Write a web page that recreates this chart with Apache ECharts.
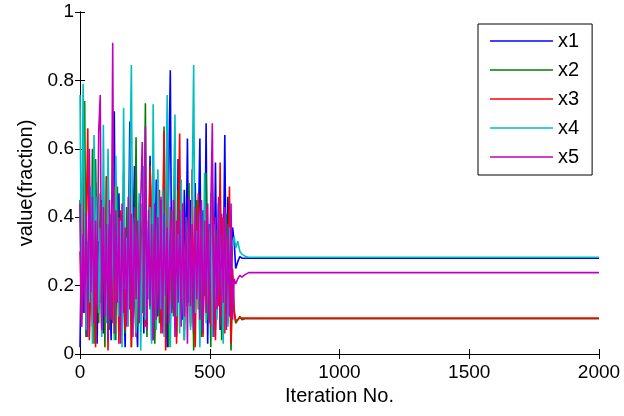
<!DOCTYPE html>
<html>
<head>
<meta charset="utf-8">
<script src="https://cdn.jsdelivr.net/npm/echarts@6/dist/echarts.min.js"></script>
<style>html,body{margin:0;padding:0;background:#fff;}#c{width:624px;height:416px;}</style>
</head>
<body>
<div id="c"></div>
<script>
// Iteration indices (noisy phase sampled every 6 iterations, then convergence)
const iterations = [0,6,12,18,24,30,36,42,48,54,60,66,72,78,84,90,96,102,108,114,120,126,132,138,144,150,156,162,168,174,180,186,192,198,204,210,216,222,228,234,240,246,252,258,264,270,276,282,288,294,300,306,312,318,324,330,336,342,348,354,360,366,372,378,384,390,396,402,408,414,420,426,432,438,444,450,456,462,468,474,480,486,492,498,504,510,516,522,528,534,540,546,552,558,564,570,576,582,588,
  594,600,608,616,624,636,650,2000];
const seriesNames = ['x1','x2','x3','x4','x5'];
const x1 = [0.02,0.35,0.12,0.48,0.05,0.30,0.18,0.42,0.08,0.27,
  0.50,0.03,0.33,0.15,0.45,0.06,0.39,0.10,0.38,0.22,
  0.04,0.52,0.71,0.14,0.29,0.47,0.07,0.41,0.19,0.02,
  0.36,0.25,0.68,0.09,0.31,0.55,0.12,0.02,0.44,0.20,
  0.37,0.06,0.49,0.16,0.28,0.58,0.04,0.40,0.23,0.51,
  0.11,0.34,0.45,0.08,0.46,0.18,0.02,0.53,0.83,0.13,
  0.26,0.43,0.05,0.57,0.17,0.39,0.10,0.48,0.24,0.63,
  0.15,0.45,0.27,0.06,0.50,0.21,0.36,0.63,0.09,0.42,
  0.19,0.675,0.03,0.38,0.25,0.47,0.11,0.56,0.16,0.44,
  0.07,0.40,0.22,0.64,0.13,0.46,0.30,0.18,0.37,
  0.33,0.25,0.27,0.285,0.28,0.28,0.28,0.28];
const x2 = [0.45,0.10,0.38,0.74,0.05,0.22,0.47,0.14,0.60,0.03,
  0.57,0.29,0.09,0.47,0.18,0.34,0.02,0.52,0.26,0.07,
  0.41,0.16,0.31,0.04,0.49,0.21,0.37,0.11,0.28,0.06,
  0.43,0.15,0.50,0.02,0.35,0.19,0.634,0.08,0.30,0.44,
  0.12,0.27,0.733,0.05,0.39,0.13,0.32,0.56,0.03,0.20,
  0.46,0.09,0.36,0.17,0.665,0.11,0.684,0.02,0.29,0.42,
  0.11,0.33,0.06,0.48,0.18,0.25,0.40,0.04,0.31,0.14,
  0.50,0.08,0.37,0.01,0.22,0.45,0.13,0.28,0.05,0.39,
  0.17,0.53,0.10,0.34,0.02,0.43,0.21,0.07,0.36,0.15,
  0.48,0.04,0.30,0.19,0.41,0.09,0.26,0.01,0.23,
  0.12,0.09,0.10,0.11,0.10,0.103,0.103,0.103];
const x3 = [0.30,0.08,0.55,0.17,0.40,0.66,0.04,0.21,0.10,0.46,
  0.02,0.33,0.13,0.27,0.06,0.44,0.19,0.52,0.01,0.36,
  0.24,0.09,0.49,0.15,0.31,0.03,0.42,0.20,0.53,0.07,
  0.28,0.12,0.47,0.02,0.38,0.16,0.05,0.25,0.43,0.11,
  0.34,0.50,0.08,0.29,0.18,0.55,0.41,0.04,0.37,0.14,
  0.26,0.48,0.06,0.32,0.652,0.01,0.45,0.19,0.10,0.39,
  0.23,0.51,0.03,0.35,0.645,0.13,0.44,0.07,0.28,0.17,
  0.42,0.09,0.54,0.20,0.02,0.33,0.47,0.12,0.38,0.05,
  0.29,0.43,0.15,0.36,0.08,0.50,0.22,0.04,0.31,0.14,
  0.56,0.11,0.40,0.06,0.34,0.18,0.49,0.03,0.25,
  0.13,0.097,0.10,0.106,0.105,0.105,0.105,0.105];
const x4 = [0.757,0.20,0.79,0.41,0.07,0.33,0.15,0.49,0.03,0.64,
  0.28,0.46,0.12,0.37,0.05,0.67,0.22,0.09,0.60,0.31,
  0.17,0.44,0.04,0.58,0.26,0.11,0.39,0.02,0.72,0.19,
  0.34,0.08,0.52,0.845,0.14,0.40,0.06,0.23,0.47,0.01,
  0.30,0.55,0.10,0.36,0.16,0.43,0.03,0.73,0.25,0.07,
  0.54,0.32,0.13,0.48,0.05,0.38,0.757,0.21,0.02,0.29,
  0.44,0.70,0.11,0.35,0.06,0.51,0.18,0.04,0.40,0.14,
  0.33,0.07,0.46,0.845,0.12,0.36,0.24,0.02,0.42,0.15,
  0.53,0.09,0.30,0.19,0.47,0.05,0.38,0.26,0.10,0.44,
  0.17,0.35,0.03,0.41,0.22,0.08,0.37,0.29,0.33,
  0.343,0.31,0.33,0.30,0.292,0.286,0.283,0.283];
const x5 = [0.44,0.08,0.35,0.12,0.41,0.05,0.60,0.18,0.46,0.09,
  0.39,0.14,0.65,0.757,0.07,0.43,0.11,0.38,0.04,0.45,
  0.10,0.91,0.06,0.42,0.15,0.40,0.03,0.44,0.12,0.37,
  0.08,0.46,0.13,0.41,0.05,0.43,0.16,0.39,0.09,0.45,
  0.62,0.11,0.665,0.07,0.42,0.14,0.38,0.04,0.44,0.10,
  0.40,0.13,0.46,0.06,0.41,0.17,0.37,0.09,0.43,0.12,
  0.45,0.05,0.39,0.15,0.42,0.08,0.44,0.11,0.40,0.03,
  0.46,0.14,0.38,0.07,0.43,0.16,0.41,0.10,0.45,0.06,
  0.39,0.12,0.44,0.09,0.42,0.675,0.05,0.40,0.13,0.46,
  0.08,0.41,0.15,0.43,0.07,0.38,0.11,0.44,0.10,
  0.22,0.205,0.22,0.23,0.225,0.232,0.238,0.238];
const xTicks = [0,500,1000,1500,2000];
const yTicks = [0,0.2,0.4,0.6,0.8,1];

const values = [x1,x2,x3,x4,x5];
const colors = ['#0000ff','#008000','#ff0000','#00bfbf','#bf00bf'];
const FONT = 'Liberation Sans, Arial, sans-serif';

const chart = echarts.init(document.getElementById('c'), null, {renderer:'canvas'});
const series = seriesNames.map((n,k)=>({
  name:n, type:'line', symbol:'none', showSymbol:false,
  data: iterations.map((it,i)=>[it, values[k][i]]),
  lineStyle:{width:1.6, color:colors[k]}, itemStyle:{color:colors[k]},
  xAxisIndex:0, yAxisIndex:0, animation:false
}));
const axisCommon = {
  axisLine:{show:true, lineStyle:{color:'#000', width:1}},
  axisTick:{show:true, inside:true, length:5, lineStyle:{color:'#000'}},
  splitLine:{show:false}
};
chart.setOption({
  animation:false,
  backgroundColor:'#fff',
  grid:{left:80, right:25, top:12, bottom:62},
  legend:{
    data:seriesNames, orient:'vertical', left:478, top:24,
    icon:'rect', itemWidth:63, itemHeight:1.5, itemGap:9,
    padding:[7,13,8,12],
    borderColor:'#000', borderWidth:1, backgroundColor:'#fff',
    textStyle:{fontFamily:FONT, fontSize:20, color:'#000', lineHeight:20}
  },
  xAxis:[
    Object.assign({type:'value', min:xTicks[0], max:xTicks[xTicks.length-1], interval:500, position:'bottom',
      name:'Iteration No.', nameLocation:'middle', nameGap:28,
      nameTextStyle:{fontFamily:FONT, fontSize:20, color:'#000'},
      axisLabel:{fontFamily:FONT, fontSize:19, color:'#000', margin:9, formatter:v=>String(v)}}, axisCommon),
    Object.assign({type:'value', min:0, max:2000, interval:500, position:'top', axisLabel:{show:false}}, axisCommon)
  ],
  yAxis:[
    Object.assign({type:'value', min:yTicks[0], max:yTicks[yTicks.length-1], interval:0.2, position:'left',
      name:'value(fraction)', nameLocation:'middle', nameGap:44, nameRotate:90,
      nameTextStyle:{fontFamily:FONT, fontSize:20, color:'#000'},
      axisLabel:{fontFamily:FONT, fontSize:19, color:'#000', margin:6, formatter:v=>String(v)}}, axisCommon),
    Object.assign({type:'value', min:0, max:1, interval:0.2, position:'right', axisLabel:{show:false}}, axisCommon)
  ],
  series: series
});
</script>
</body>
</html>
